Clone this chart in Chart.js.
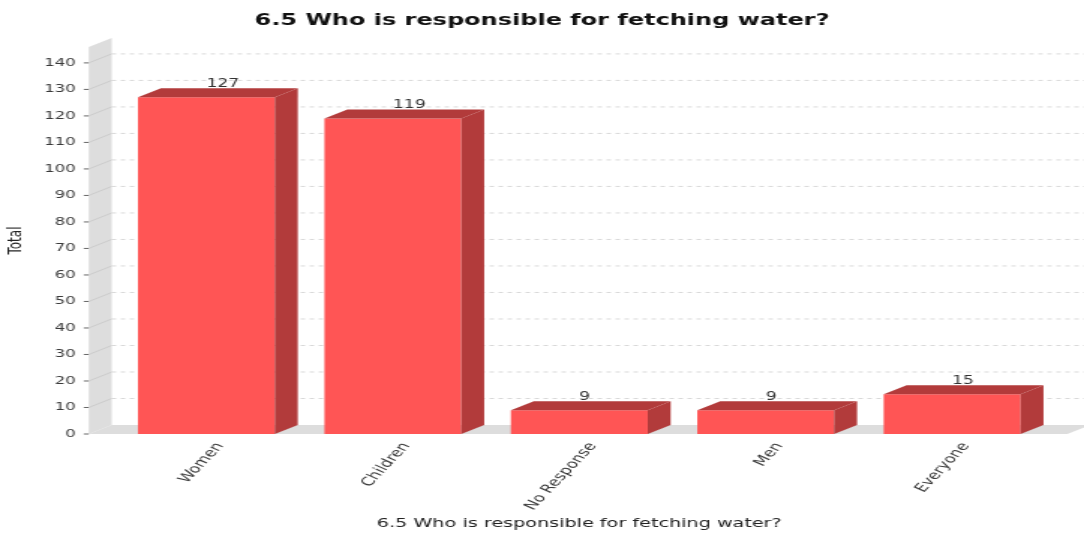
<!DOCTYPE html>
<html>
<head>
<meta charset="utf-8">
<script src="https://cdn.jsdelivr.net/npm/chart.js@4/dist/chart.umd.min.js"></script>
<style>
  html, body { margin: 0; padding: 0; background: #fff; overflow: hidden; }
  #wrap { width: 723px; height: 533px; transform: scaleX(1.4993); transform-origin: 0 0; }
</style>
</head>
<body>
<div id="wrap"><canvas id="bar-canvas" width="723" height="533"></canvas></div>
<script>
const chartTitle = "6.5 Who is responsible for fetching water?"
const categories = ["Women", "Children", "No Response", "Men", "Everyone"]
const totals = [127, 119, 9, 9, 15]
const yLabel = "Total"
const yMax = 146
const yStep = 10

// 3d offsets, in canvas units (canvas is stretched horizontally by css)
const dx = 15.3
const dy = 9
const wallColor = "#dddddd"
const sideColor = "#b23b3b"

const box3d = {
    id: "box3d",
    beforeDatasetsDraw(chart) {
        const { ctx, chartArea, scales: { y } } = chart
        const x0 = chartArea.left - 16.3
        const x1 = chartArea.right + 14.7
        const yb = y.getPixelForValue(0)
        const yt = y.getPixelForValue(yMax)
        ctx.save()
        ctx.fillStyle = wallColor
        // left wall
        ctx.beginPath()
        ctx.moveTo(x0, yb)
        ctx.lineTo(x0, yt)
        ctx.lineTo(x0 + dx, yt - dy)
        ctx.lineTo(x0 + dx, yb - dy)
        ctx.closePath()
        ctx.fill()
        // floor
        ctx.beginPath()
        ctx.moveTo(x0, yb)
        ctx.lineTo(x0 + dx, yb - dy)
        ctx.lineTo(x1 + dx, yb - dy)
        ctx.lineTo(x1, yb)
        ctx.closePath()
        ctx.fill()

        y.ticks.forEach(t => {
            const py = y.getPixelForValue(t.value)
            // tick mark
            ctx.strokeStyle = "#666"
            ctx.lineWidth = 1
            ctx.setLineDash([])
            ctx.beginPath()
            ctx.moveTo(x0 - 3.3, py)
            ctx.lineTo(x0, py)
            ctx.stroke()
            if (t.value === 0) return
            // line across the wall
            ctx.strokeStyle = "#cccccc"
            ctx.beginPath()
            ctx.moveTo(x0, py)
            ctx.lineTo(x0 + dx, py - dy)
            ctx.stroke()
            // dashed gridline on the back wall
            ctx.strokeStyle = "#d9d9d9"
            ctx.setLineDash([3, 3])
            ctx.beginPath()
            ctx.moveTo(x0 + dx, py - dy)
            ctx.lineTo(chart.width, py - dy)
            ctx.stroke()
        })
        ctx.restore()
    },
    afterDatasetsDraw(chart) {
        const { ctx } = chart
        const meta = chart.getDatasetMeta(0)
        ctx.save()
        meta.data.forEach((bar, i) => {
            const { x, y, base, width } = bar.getProps(["x", "y", "base", "width"], true)
            const l = x - width / 2
            const r = x + width / 2
            ctx.fillStyle = sideColor
            // top
            ctx.beginPath()
            ctx.moveTo(l, y)
            ctx.lineTo(l + dx, y - dy)
            ctx.lineTo(r + dx, y - dy)
            ctx.lineTo(r, y)
            ctx.closePath()
            ctx.fill()
            // side
            ctx.beginPath()
            ctx.moveTo(r, y)
            ctx.lineTo(r + dx, y - dy)
            ctx.lineTo(r + dx, base - dy)
            ctx.lineTo(r, base)
            ctx.closePath()
            ctx.fill()
            // value label
            ctx.fillStyle = "#333"
            ctx.font = "11.5px 'DejaVu Sans'"
            ctx.textAlign = "left"
            ctx.textBaseline = "alphabetic"
            ctx.fillText(String(totals[i]), x, y - dy - 1.5)
        })
        ctx.restore()
    }
}

new Chart(document.getElementById("bar-canvas"), {
    type: "bar",
    data: {
        labels: categories,
        datasets: [{
            label: yLabel,
            data: totals,
            backgroundColor: "#ff5555",
            borderWidth: 0,
            categoryPercentage: 1,
            barPercentage: 0.734
        }]
    },
    options: {
        responsive: false,
        animation: false,
        devicePixelRatio: 1,
        layout: { padding: 0 },
        font: { family: "'DejaVu Sans'" },
        plugins: {
            legend: { display: false },
            tooltip: { enabled: false },
            title: {
                display: true,
                text: chartTitle,
                color: "#111",
                font: { family: "'DejaVu Sans'", size: 16, weight: "bold" },
                padding: { top: 11, bottom: 16.8 }
            }
        },
        scales: {
            x: {
                grid: { display: false, drawTicks: false },
                border: { display: false },
                ticks: {
                    color: "#3a3a3a",
                    autoSkip: false,
                    minRotation: 57,
                    maxRotation: 57,
                    padding: 6,
                    labelOffset: 9,
                    font: { family: "'DejaVu Sans'", size: 12 }
                },
                title: {
                    display: true,
                    text: chartTitle,
                    color: "#222",
                    font: { family: "'DejaVu Sans'", size: 12.8 },
                    padding: { top: 0, bottom: 1.5 }
                },
                afterFit: s => { s.height = 99 }
            },
            y: {
                min: 0,
                max: yMax,
                grid: { display: false, drawTicks: false },
                border: { display: false },
                ticks: {
                    stepSize: yStep,
                    includeBounds: false,
                    color: "#3a3a3a",
                    padding: 25,
                    font: { family: "'DejaVu Sans'", size: 11 }
                },
                title: {
                    display: true,
                    text: yLabel,
                    color: "#222",
                    font: { family: "'DejaVu Sans'", size: 12 },
                    padding: { top: 4, bottom: 0 }
                },
                afterFit: s => { s.width = 75.5 }
            },
            // empty right-hand strip, keeps the title centred on the whole canvas
            edge: {
                type: "linear",
                position: "right",
                display: true,
                grid: { display: false, drawTicks: false },
                border: { display: false },
                ticks: { display: false },
                afterFit: s => { s.width = 25.8 }
            }
        }
    },
    plugins: [box3d]
})
</script>
</body>
</html>
